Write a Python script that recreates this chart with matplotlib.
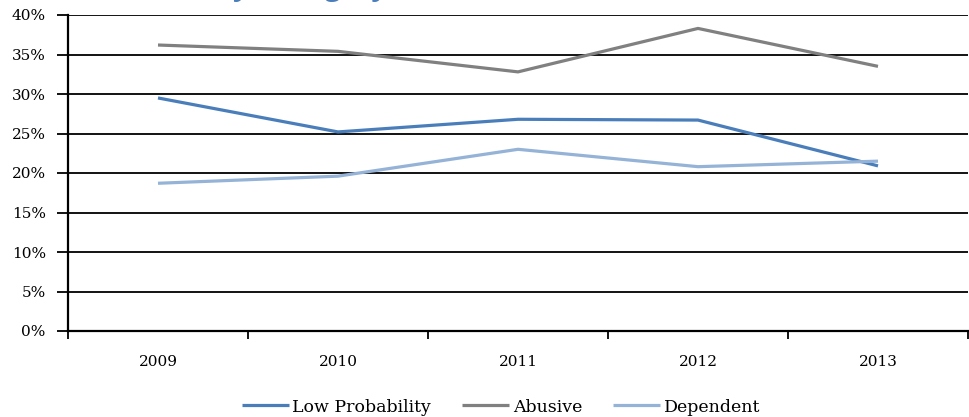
import matplotlib
matplotlib.use("Agg")
import matplotlib.pyplot as plt
from matplotlib.ticker import FixedLocator, PercentFormatter

years = ["2009", "2010", "2011", "2012", "2013"]
low_probability = [29.5, 25.2, 26.8, 26.7, 20.9]
abusive = [36.2, 35.4, 32.8, 38.3, 33.5]
dependent = [18.7, 19.6, 23.0, 20.8, 21.5]
yticks = [0, 5, 10, 15, 20, 25, 30, 35, 40]
title_text = "Share by Category, 2009–2013"

plt.rcParams['font.family'] = ['DejaVu Serif', 'DejaVu Sans']

fig = plt.figure(figsize=(9.69, 4.17), dpi=100)
ax = fig.add_axes([68/969, 1-331/417, 900/969, (331-15)/417])

x = list(range(len(years)))
ax.plot(x, low_probability, color="#4a7ebb", lw=2.3, label="Low Probability", solid_capstyle="butt")
ax.plot(x, abusive, color="#808080", lw=2.3, label="Abusive", solid_capstyle="butt")
ax.plot(x, dependent, color="#95b3d7", lw=2.3, label="Dependent", solid_capstyle="butt")

ax.set_xlim(-0.5, len(years) - 0.5)
ax.set_ylim(0, 40)
ax.set_yticks(yticks)
ax.yaxis.set_major_formatter(PercentFormatter(decimals=0))
ax.yaxis.grid(True, color="black", lw=1.3)
ax.set_axisbelow(True)

ax.set_xticks(x)
ax.set_xticklabels(years)
ax.xaxis.set_minor_locator(FixedLocator([i - 0.5 for i in range(len(years) + 1)]))
ax.tick_params(axis="x", which="major", length=0, pad=17, labelsize=11)
ax.tick_params(axis="x", which="minor", length=6, width=1.3, direction="out")
ax.tick_params(axis="y", length=8, width=1.3, pad=8, labelsize=11)

for s in ["top", "right"]:
    ax.spines[s].set_visible(False)
ax.spines["left"].set_linewidth(1.6)
ax.spines["bottom"].set_linewidth(1.6)

# Title, mostly cut off at the top edge as in the reference
title_kw = dict(color="#4a7ebb", fontsize=23, fontweight="semibold", fontstyle="italic",
                family=["Open Sans", "DejaVu Sans"], va="baseline", ha="left")
fig.canvas.draw()
renderer = fig.canvas.get_renderer()
probe = fig.text(0, 0, "Share by Category,", **title_kw)
w = probe.get_window_extent(renderer).width
probe.remove()
fig.text((398 - w) / 969, 1 + 6/417, title_text, **title_kw)

fig.legend(loc="center", bbox_to_anchor=(501/969, 1-407/417), ncol=3, frameon=False,
           fontsize=12.5, handlelength=2.7, handletextpad=0.2, columnspacing=1.8,
           borderaxespad=0)

fig.savefig("out.png", dpi=100)
